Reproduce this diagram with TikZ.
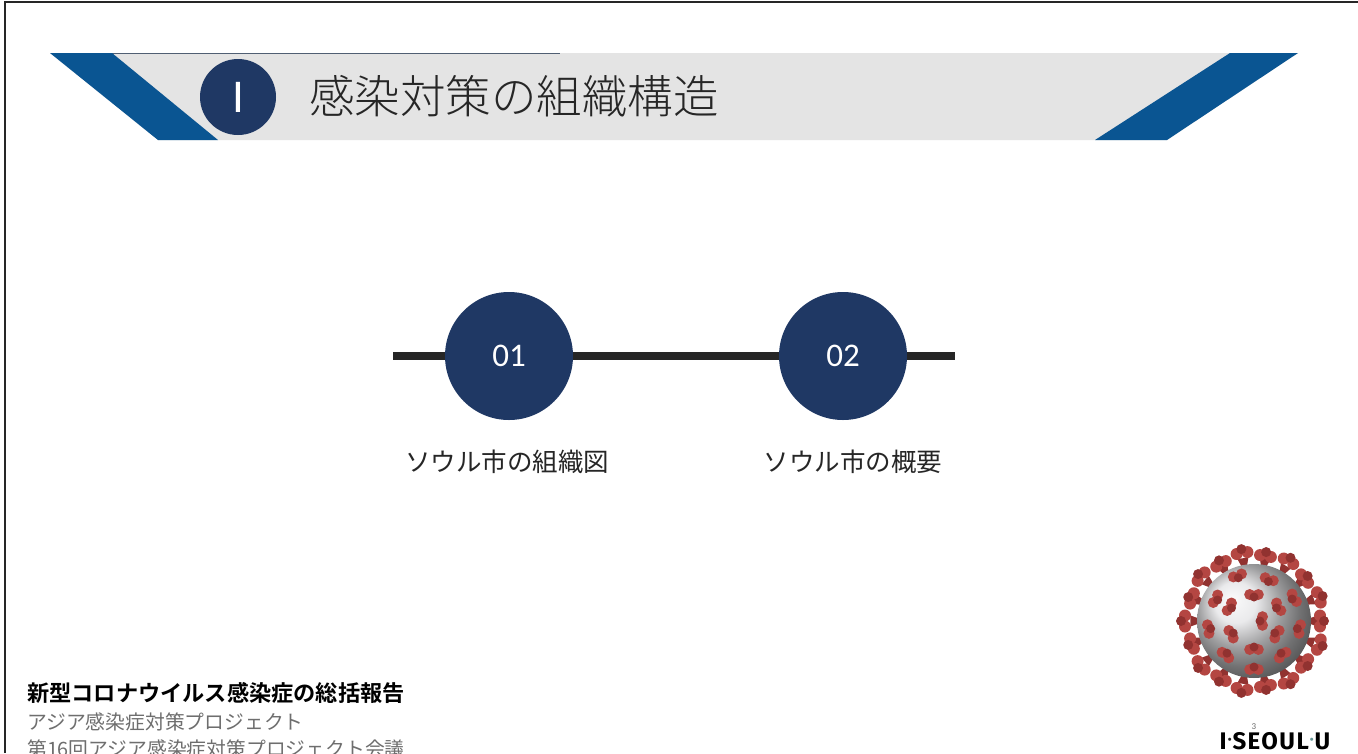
\documentclass[tikz,border=0pt]{standalone}
\usepackage{fontspec}
\usetikzlibrary{shapes.geometric,calc}
\newfontfamily\cjk{Noto Sans CJK JP}
\newfontfamily\cjklight[UprightFont=* Light]{Noto Sans CJK JP}
\newfontfamily\cjkbold[UprightFont=* Bold]{Noto Sans CJK JP}
\newfontfamily\calib{Carlito}
\newfontfamily\logofont{Fira Sans}[UprightFont=* Bold, LetterSpace=6]

\definecolor{stripeblue}{RGB}{10,85,146}
\definecolor{navy}{RGB}{31,56,100}
\definecolor{bandgrey}{RGB}{228,228,228}
\definecolor{inkdark}{RGB}{38,38,38}
\definecolor{textgrey}{RGB}{110,110,110}
\definecolor{spikered}{RGB}{180,70,66}
\definecolor{spikedark}{RGB}{145,50,48}
\definecolor{bodygrey}{RGB}{215,215,218}
\definecolor{logoteal}{RGB}{100,150,150}

\tikzset{
  stepdot/.style={circle, fill=navy, minimum size=128pt, inner sep=0pt,
    text=white, font=\calib\fontsize{33}{33}\selectfont},
  steplabel/.style={font=\cjk\fontsize{25.5}{25.5}\selectfont, text=inkdark},
  timeline/.style={line width=8pt, draw=inkdark},
  footbold/.style={anchor=west, font=\cjkbold\fontsize{22.2}{22.2}\selectfont, text=black, inner sep=0pt},
  footplain/.style={anchor=west, font=\cjk\fontsize{19.8}{19.8}\selectfont, text=textgrey, inner sep=0pt},
}

\begin{document}
\begin{tikzpicture}[x=1pt,y=-1pt]
\useasboundingbox (0,0) rectangle (1358,753);
\fill[white] (0,0) rectangle (1358,753);

% page frame (top and left edges)
\draw[line width=1.6pt, inkdark] (5,753) -- (5,2) -- (1358,2);

% header band with slanted stripes
\fill[bandgrey] (50,53) -- (1298,53) -- (1167,140) -- (158,140) -- cycle;
\draw[line width=1pt, draw={rgb,255:red,80;green,95;blue,115}] (55,53) -- (560,53);
\fill[stripeblue] (50,53) -- (112,53) -- (218,140) -- (158,140) -- cycle;
\fill[stripeblue] (1230,53) -- (1298,53) -- (1167,140) -- (1095,140) -- cycle;

\node[circle, fill=navy, minimum size=76pt, inner sep=0pt, text=white,
      font=\calib\fontsize{47}{47}\selectfont] (secnum) at (238,97) {I};
\node[anchor=west, inner sep=0pt, text=inkdark,
      font=\cjklight\fontsize{45.5}{45.5}\selectfont] (title) at (309,96) {感染対策の組織構造};

% timeline of the two sections
\coordinate (lineL) at (393,356);
\coordinate (lineR) at (955,356);
\node[stepdot] (s1) at (509,356) {01};
\node[stepdot] (s2) at (843,356) {02};
\draw[timeline] (lineL) -- (s1) -- (s2) -- (lineR);
\node[steplabel] (l1) at (507,462) {ソウル市の組織図};
\node[steplabel] (l2) at (853,462) {ソウル市の概要};

% footer text
\node[footbold] (f1) at (27,693) {新型コロナウイルス感染症の総括報告};
\node[footplain] (f2) at (27,722) {アジア感染症対策プロジェクト};
\node[footplain] (f3) at (27,749) {第16回アジア感染症対策プロジェクト会議};

% coronavirus illustration
\coordinate (vc) at (1254,621);
\foreach \a in {0,20,...,340} {
  \fill[spikedark] ($(vc)+(\a:48)$) -- ($(vc)+(\a+5:64)$) -- ($(vc)+(\a-5:64)$) -- cycle;
}
\shade[ball color=bodygrey!70!white] (vc) circle (57);
\foreach \a/\r in {0/66,20/69,40/66,60/69,80/66,100/69,120/66,140/69,160/66,180/69,200/66,220/69,240/66,260/69,280/66,300/69,320/66,340/69} {
  \fill[spikered] ($(vc)+(\a:\r)+(\a+90:5.5)$) circle (6);
  \fill[spikered] ($(vc)+(\a:\r)+(\a-90:5.5)$) circle (6);
  \fill[spikedark] ($(vc)+(\a:\r+4)$) circle (5);
}
\foreach \a/\r in {10/44,50/42,90/46,130/42,170/44,210/42,250/46,290/42,330/44,30/24,90/26,150/24,210/26,270/24,330/26,0/6} {
  \fill[spikered] ($(vc)+(\a:\r)+(\a+60:5)$) circle (5.5);
  \fill[spikered] ($(vc)+(\a:\r)+(\a-60:5)$) circle (5.5);
  \fill[spikedark] ($(vc)+(\a:\r)$) circle (4.5);
}

% city slogan and page number
\node[inner sep=0pt, anchor=base, font=\logofont\fontsize{24}{24}\selectfont] (logo) at (1275,749)
  {I\kern1pt\textcolor{inkdark}{\raisebox{0.45ex}{\fontsize{11}{11}\selectfont•}}\kern1ptSEOUL\kern1pt\textcolor{logoteal}{\raisebox{0.45ex}{\fontsize{11}{11}\selectfont•}}\kern1ptU};
\node[inner sep=0pt, text=textgrey, font=\calib\fontsize{9}{9}\selectfont] (pageno) at (1254,727) {3};
\end{tikzpicture}
\end{document}
